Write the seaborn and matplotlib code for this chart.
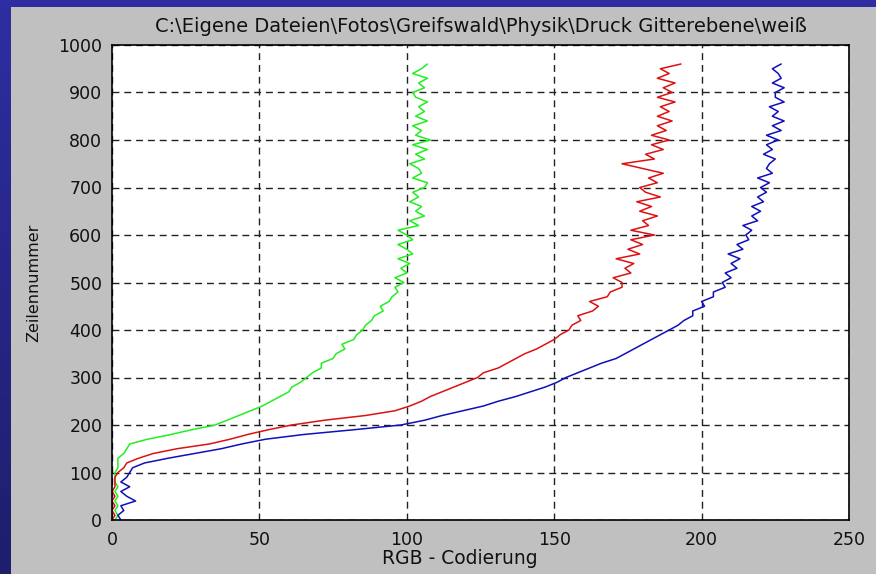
import numpy as np
import matplotlib
matplotlib.use("Agg")
import matplotlib.pyplot as plt
import seaborn as sns
from matplotlib.colors import LinearSegmentedColormap

rows = list(range(0, 961, 10))

green = [1, 2, 1, 2, 1, 2, 1, 2, 1, 1,
         1, 2, 2, 2, 4, 5, 6, 12, 20, 27,
         35, 39, 43, 47, 51, 54, 57, 60, 61, 64,
         66, 68, 71, 71, 75, 76, 79, 78, 82, 83,
         85, 86, 88, 89, 92, 91, 94, 95, 97, 96,
         99, 96, 100, 98, 101, 97, 102, 100, 97, 102,
         100, 97, 104, 101, 106, 103, 105, 101, 104, 102,
         106, 107, 102, 105, 104, 101, 106, 103, 107, 102,
         108, 103, 105, 102, 107, 103, 106, 104, 107, 103,
         102, 106, 104, 107, 102, 105, 107]

red = [0, 1, 0, 1, 0, 1, 0, 1, 1, 1,
       2, 4, 5, 9, 14, 22, 33, 40, 46, 53,
       61, 72, 86, 96, 101, 105, 108, 112, 116, 120,
       124, 126, 131, 134, 137, 140, 144, 147, 150, 152,
       155, 156, 159, 158, 163, 165, 162, 168, 169, 173,
       173, 170, 176, 174, 177, 171, 179, 175, 180, 176,
       184, 176, 182, 180, 185, 179, 183, 178, 186, 181,
       179, 185, 182, 187, 180, 173, 184, 181, 187, 183,
       189, 183, 188, 185, 190, 185, 189, 186, 191, 185,
       190, 187, 191, 185, 189, 186, 193]

blue = [3, 2, 4, 3, 8, 5, 3, 6, 3, 5,
        6, 7, 11, 19, 28, 37, 44, 52, 65, 82,
        98, 106, 112, 119, 126, 131, 137, 142, 147, 151,
        154, 158, 162, 166, 171, 174, 177, 180, 183, 186,
        189, 192, 194, 197, 197, 201, 200, 204, 204, 208,
        207, 210, 208, 212, 210, 213, 209, 214, 212, 216,
        215, 217, 214, 219, 217, 220, 217, 221, 219, 222,
        220, 223, 219, 224, 222, 223, 225, 221, 224, 222,
        226, 222, 227, 224, 228, 224, 226, 223, 228, 225,
        225, 228, 224, 227, 226, 224, 227]

xticks = [0, 50, 100, 150, 200, 250]
yticks = list(range(0, 1001, 100))
title = "C:\\Eigene Dateien\\Fotos\\Greifswald\\Physik\\Druck Gitterebene\\weiß"
xlabel = "RGB - Codierung"
ylabel = "Zeilennummer"

sns.set_theme(style="white")
plt.rcParams['font.family'] = ['DejaVu Sans']

W, H = 876, 574
fig = plt.figure(figsize=(W / 100, H / 100), dpi=100, facecolor="#c0c0c0")

# slide-like blue bands
cmap = LinearSegmentedColormap.from_list("b", ["#2e2ea2", "#1e1e6c"])
bl = fig.add_axes([0, 0, 11 / W, 1])
bl.imshow(np.linspace(0, 1, 100).reshape(-1, 1), aspect="auto", cmap=cmap)
bl.axis("off")
bt = fig.add_axes([0, 1 - 7 / H, 1, 7 / H])
bt.axis("off")
bt.add_patch(plt.Rectangle((0, 0), 1, 1, transform=bt.transAxes, color="#2e2ea2"))

ax = fig.add_axes([112 / W, 1 - 520 / H, (849 - 112) / W, (520 - 45) / H])
ax.set_facecolor("white")

for vals, col in [(green, "#22ee22"), (red, "#dd1111"), (blue, "#1010bb")]:
    sns.lineplot(x=vals, y=rows, sort=False, estimator=None, color=col,
                 linewidth=1.1, ax=ax)

ax.set_xlim(0, 250)
ax.set_ylim(0, 1000)
ax.set_xticks(xticks)
ax.set_yticks(yticks)
ax.grid(True, color="#222222", linestyle=(0, (5, 3.5)), linewidth=1.0)
for s in ax.spines.values():
    s.set_color("black")
    s.set_linewidth(1.2)
ax.tick_params(direction="in", length=4, width=1, colors="black",
               labelsize=12.5, pad=7, labelcolor="#111111")
ax.tick_params(axis="x", pad=8)
ax.set_title(title, fontsize=14, color="#111111", pad=9)
ax.set_xlabel(xlabel, fontsize=13.5, color="#111111")
ax.xaxis.set_label_coords((460 - 112) / (849 - 112), -(559 - 520) / (520 - 45),
                          transform=ax.transAxes)
ax.xaxis.label.set_va("center")
ax.set_ylabel(ylabel, fontsize=11.5, color="#111111", labelpad=12)

fig.savefig("out.png", dpi=100, facecolor=fig.get_facecolor())
